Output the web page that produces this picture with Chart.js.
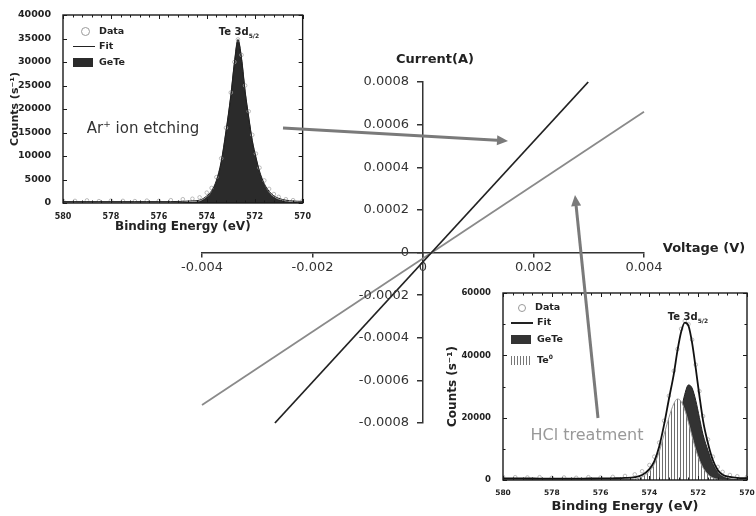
<!DOCTYPE html>
<html>
<head>
<meta charset="utf-8">
<script src="https://cdn.jsdelivr.net/npm/chart.js@4.4.1/dist/chart.umd.min.js"></script>
<style>
  html, body { margin: 0; padding: 0; background: #fff; }
  #wrap { position: relative; width: 756px; height: 516px; overflow: hidden; font-family: 'DejaVu Sans', sans-serif; }
  canvas { position: absolute; }
  .lbl { position: absolute; white-space: nowrap; transform: translate(-50%, -50%); }
  .leg { position: absolute; font-weight: bold; font-size: 9.5px; color: #222; white-space: nowrap; }
  .sym { display: inline-block; vertical-align: middle; margin-right: 4px; }
</style>
</head>
<body>
<div id="wrap">
  <canvas id="main" width="756" height="516" style="left:0;top:0"></canvas>
  <canvas id="ins1" width="312" height="236" style="left:0;top:0"></canvas>
  <canvas id="ins2" width="316" height="236" style="left:440px;top:280px"></canvas>
  <canvas id="arrows" width="756" height="516" style="left:0;top:0"></canvas>

  <div class="lbl" style="left:435px;top:58px;font-weight:bold;font-size:13px;color:#222">Current(A)</div>
  <div class="lbl" style="left:704px;top:247px;font-weight:bold;font-size:13px;color:#222">Voltage (V)</div>
  <div class="lbl" style="left:143px;top:128px;font-size:15px;color:#333">Ar<sup style="font-size:9px">+</sup> ion etching</div>
  <div class="lbl" style="left:587px;top:434px;font-size:16px;color:#999">HCl treatment</div>
  <div class="lbl" style="left:239px;top:32px;font-weight:bold;font-size:10px;color:#222">Te 3d<sub style="font-size:6px">5/2</sub></div>
  <div class="lbl" style="left:688px;top:317px;font-weight:bold;font-size:10px;color:#222">Te 3d<sub style="font-size:6px">5/2</sub></div>

  <!-- legend, inset 1 -->
  <div class="leg" style="left:74px;top:25px"><span class="sym" style="width:7px;height:7px;border:1px solid #999;border-radius:50%;margin:0 9px 0 7px"></span>Data</div>
  <div class="leg" style="left:73px;top:40px"><span class="sym" style="width:22px;height:1.5px;background:#222"></span>Fit</div>
  <div class="leg" style="left:73px;top:56px"><span class="sym" style="width:20px;height:9px;background:#2b2b2b;margin-right:6px"></span>GeTe</div>
  <!-- legend, inset 2 -->
  <div class="leg" style="left:512px;top:301px"><span class="sym" style="width:6px;height:6px;border:1px solid #999;border-radius:50%;margin:0 9px 0 6px"></span>Data</div>
  <div class="leg" style="left:511px;top:316px"><span class="sym" style="width:22px;height:2px;background:#222"></span>Fit</div>
  <div class="leg" style="left:511px;top:333px"><span class="sym" style="width:20px;height:9px;background:#333;margin-right:6px"></span>GeTe</div>
  <div class="leg" style="left:511px;top:353px"><span class="sym" style="width:20px;height:9px;margin-right:6px;background:repeating-linear-gradient(90deg,#777 0 1px,#fff 1px 3px)"></span>Te<sup style="font-size:6px">0</sup></div>
</div>

<script>
// ---- main I-V plot ----
const ivVoltsDark = [-0.00268, 0.00299];
const ivCurrentDark = [-0.0008, 0.0008];
const ivVoltsLight = [-0.004, 0.004];
const ivCurrentLight = [-0.000715, 0.00066];
const xTickValues = [-0.004, -0.002, 0, 0.002, 0.004];
const xTickLabels = ['-0.004', '-0.002', '0', '0.002', '0.004'];
const yTickValues = [-0.0008, -0.0006, -0.0004, -0.0002, 0, 0.0002, 0.0004, 0.0006, 0.0008];
const yTickLabels = ['-0.0008', '-0.0006', '-0.0004', '-0.0002', '0', '0.0002', '0.0004', '0.0006', '0.0008'];

// ---- XPS insets (binding energy, eV) ----
const energy = [580, 579.5, 579, 578.5, 578, 577.5, 577, 576.5, 576, 575.5, 575, 574.6, 574.3, 574.0, 573.8, 573.6, 573.4,
  573.2, 573.0, 572.85, 572.7, 572.55, 572.4, 572.25, 572.1, 571.95, 571.8, 571.6, 571.4, 571.2, 571.0, 570.7, 570.4, 570];
const energyTicks = [580, 578, 576, 574, 572, 570];
const energyTickLabels = ['580', '578', '576', '574', '572', '570'];

// Ar+ ion etching
const arData = [500, 450, 550, 400, 500, 450, 400, 500, 450, 600, 800, 900, 1200, 2200, 3200, 5500, 9500,
  16000, 23500, 30000, 34800, 31500, 25000, 19500, 14500, 10500, 7500, 4800, 3000, 1900, 1300, 800, 600, 500];
const arFit = [300, 300, 300, 300, 300, 300, 300, 300, 300, 300, 350, 450, 600, 1500, 2600, 4800, 8800,
  15300, 22800, 29800, 34800, 30800, 23800, 18300, 13300, 9800, 6800, 4100, 2500, 1500, 1000, 600, 420, 350];
const arGeTe = [0, 0, 0, 0, 0, 0, 0, 0, 0, 0, 50, 150, 300, 1200, 2300, 4500, 8500,
  15000, 22500, 29500, 34500, 30500, 23500, 18000, 13000, 9500, 6500, 3800, 2200, 1200, 700, 300, 120, 50];
const arCountTicks = [0, 5000, 10000, 15000, 20000, 25000, 30000, 35000, 40000];
const arCountLabels = ['0', '5000', '10000', '15000', '20000', '25000', '30000', '35000', '40000'];

// HCl treatment
const hclData = [1000, 900, 800, 900, 700, 800, 700, 900, 800, 1000, 1300, 1800, 2800, 4800, 7500, 12000, 19000,
  27000, 35000, 42000, 48500, 51000, 50000, 45000, 37000, 28500, 20500, 13000, 7500, 4200, 2600, 1600, 1200, 1000];
const hclFit = [500, 500, 480, 470, 450, 450, 450, 480, 500, 550, 650, 900, 1600, 3500, 6000, 10700, 17700,
  26000, 34000, 41500, 47500, 50500, 49500, 44000, 35800, 27000, 19000, 11800, 6400, 3200, 1700, 1000, 700, 600];
const hclGeTe = [0, 0, 0, 0, 0, 0, 0, 0, 0, 0, 0, 0, 50, 200, 500, 1200, 2700,
  5500, 10500, 15500, 22000, 27500, 30500, 29500, 25500, 20000, 14500, 9500, 5200, 2500, 1100, 350, 100, 0];
const hclTe0 = [0, 0, 0, 0, 0, 0, 0, 0, 0, 0, 50, 300, 1000, 2800, 5000, 9000, 14500,
  20000, 24500, 26000, 25200, 22500, 18500, 14000, 9800, 6400, 3900, 1800, 700, 250, 80, 0, 0, 0];
const hclCountTicks = [0, 20000, 40000, 60000];
const hclCountLabels = ['0', '20000', '40000', '60000'];

Chart.defaults.font.family = "'DejaVu Sans', sans-serif";
Chart.defaults.color = '#333';

const pts = (xs, ys) => xs.map((x, i) => ({ x: x, y: ys[i] }));

// y labels for the centred axis, set off to the left of the axis line
const centerYLabels = {
  id: 'centerYLabels',
  afterDraw(chart) {
    const { ctx, scales: { x, y } } = chart;
    const ax = x.getPixelForValue(0);
    ctx.save();
    ctx.font = "13px 'DejaVu Sans', sans-serif";
    ctx.fillStyle = '#333';
    ctx.textAlign = 'right';
    ctx.textBaseline = 'middle';
    yTickValues.forEach((v, i) => ctx.fillText(yTickLabels[i], ax - 14, y.getPixelForValue(v)));
    ctx.restore();
  }
};

new Chart(document.getElementById('main'), {
  type: 'scatter',
  data: {
    datasets: [
      { data: pts(ivVoltsDark, ivCurrentDark), showLine: true, borderColor: '#222', borderWidth: 1.8, pointRadius: 0, clip: false },
      { data: pts(ivVoltsLight, ivCurrentLight), showLine: true, borderColor: '#8a8a8a', borderWidth: 1.8, pointRadius: 0, clip: false }
    ]
  },
  options: {
    responsive: false, animation: false, devicePixelRatio: 1,
    layout: { padding: { left: 202, right: 112, top: 82, bottom: 93 } },
    plugins: { legend: { display: false }, tooltip: { enabled: false } },
    scales: {
      x: {
        type: 'linear', position: { y: 0 }, min: -0.004, max: 0.004,
        afterBuildTicks: s => { s.ticks = xTickValues.map(v => ({ value: v })); },
        ticks: { callback: (v, i) => xTickLabels[i], font: { size: 13 }, color: '#333', padding: 3, maxRotation: 0 },
        grid: { drawOnChartArea: false, tickLength: 4, color: '#333', lineWidth: 1.5 },
        border: { color: '#333', width: 1.5 }
      },
      y: {
        type: 'linear', position: { x: 0 }, min: -0.0008, max: 0.0008,
        afterBuildTicks: s => { s.ticks = yTickValues.map(v => ({ value: v })); },
        ticks: { display: false },
        grid: { drawOnChartArea: false, tickLength: 5, color: '#333', lineWidth: 1.5 },
        border: { color: '#333', width: 1.5 }
      }
    }
  },
  plugins: [centerYLabels]
});

// frame with inward major/minor ticks on all four sides
const boxTicks = {
  id: 'boxTicks',
  afterDraw(chart, args, o) {
    const { ctx, chartArea: a, scales: { x, y } } = chart;
    ctx.save();
    ctx.strokeStyle = '#1a1a1a';
    ctx.lineWidth = 1.4;
    ctx.strokeRect(a.left, a.top, a.right - a.left, a.bottom - a.top);
    ctx.lineWidth = 1;
    ctx.beginPath();
    for (let k = 0; k <= Math.round((x.max - x.min) / o.xMinor); k++) {
      const v = x.min + k * o.xMinor;
      const px = Math.round(x.getPixelForValue(v)) + 0.5;
      const len = (Math.abs(v / o.xMajor - Math.round(v / o.xMajor)) < 1e-6) ? 4 : 2.5;
      ctx.moveTo(px, a.bottom); ctx.lineTo(px, a.bottom - len);
      ctx.moveTo(px, a.top); ctx.lineTo(px, a.top + len);
    }
    for (let k = 0; k <= Math.round((y.max - y.min) / o.yMinor); k++) {
      const v = y.min + k * o.yMinor;
      const py = Math.round(y.getPixelForValue(v)) + 0.5;
      const len = (Math.abs(v / o.yMajor - Math.round(v / o.yMajor)) < 1e-6) ? 4 : 2.5;
      ctx.moveTo(a.left, py); ctx.lineTo(a.left + len, py);
      ctx.moveTo(a.right, py); ctx.lineTo(a.right - len, py);
    }
    ctx.stroke();
    ctx.restore();
  }
};

function hatch() {
  const c = document.createElement('canvas');
  c.width = 3; c.height = 4;
  const g = c.getContext('2d');
  g.fillStyle = '#fff'; g.fillRect(0, 0, 3, 4);
  g.fillStyle = '#6e6e6e'; g.fillRect(0, 0, 1, 4);
  return g.createPattern(c, 'repeat');
}

function insetOptions(cfg) {
  return {
    responsive: false, animation: false, devicePixelRatio: 1,
    layout: { padding: { left: 0, right: cfg.right, top: cfg.top, bottom: 0 } },
    plugins: { legend: { display: false }, tooltip: { enabled: false }, boxTicks: cfg.ticks },
    elements: { line: { cubicInterpolationMode: 'monotone' } },
    scales: {
      x: {
        type: 'linear', reverse: true, min: 570, max: 580,
        afterFit: s => { s.height = cfg.xh; },
        afterBuildTicks: s => { s.ticks = energyTicks.map(v => ({ value: v })); },
        ticks: { callback: (v, i) => energyTickLabels[i], font: { size: cfg.xfont, weight: 'bold' },
          color: '#222', padding: 1, maxRotation: 0 },
        grid: { display: false }, border: { display: false },
        title: { display: true, text: 'Binding Energy (eV)', font: { size: cfg.tfont, weight: 'bold' }, color: '#222', padding: { top: 0, bottom: 2 } }
      },
      y: {
        type: 'linear', min: 0, max: cfg.ymax,
        afterFit: s => { s.width = 63; },
        afterBuildTicks: s => { s.ticks = cfg.yticks.map(v => ({ value: v })); },
        ticks: { callback: (v, i) => cfg.ylabels[i], font: { size: cfg.yfont, weight: 'bold' },
          color: '#222', padding: 4 },
        grid: { display: false }, border: { display: false },
        title: { display: true, text: 'Counts (s\u207B\u00B9)', font: { size: cfg.tfont - 1, weight: 'bold' }, color: '#222', padding: { top: cfg.ytpad, bottom: 0 } }
      }
    }
  };
}

new Chart(document.getElementById('ins1'), {
  type: 'line',
  data: {
    datasets: [
      { data: pts(energy, arFit), order: 0, borderColor: '#222', borderWidth: 1, pointRadius: 0, fill: false },
      { data: pts(energy, arData), order: 1, showLine: false, pointRadius: 1.8, pointBorderWidth: 0.8,
        pointBorderColor: '#aaa', pointBackgroundColor: 'rgba(255,255,255,0)' },
      { data: pts(energy, arGeTe), order: 2, borderColor: '#222', borderWidth: 1, pointRadius: 0,
        fill: 'origin', backgroundColor: '#2b2b2b' }
    ]
  },
  options: insetOptions({ right: 9, top: 15, xh: 33, ymax: 40000, yticks: arCountTicks, ylabels: arCountLabels,
    xfont: 8, yfont: 9.5, tfont: 12, ytpad: 9,
    ticks: { xMinor: 0.4, xMajor: 2, yMinor: 5000, yMajor: 5000 } }),
  plugins: [boxTicks]
});

new Chart(document.getElementById('ins2'), {
  type: 'line',
  data: {
    datasets: [
      { data: pts(energy, hclFit), order: 0, borderColor: '#111', borderWidth: 1.8, pointRadius: 0, fill: false },
      { data: pts(energy, hclData), order: 1, showLine: false, pointRadius: 1.8, pointBorderWidth: 0.8,
        pointBorderColor: '#aaa', pointBackgroundColor: 'rgba(255,255,255,0)' },
      { data: pts(energy, hclTe0), order: 2, borderColor: '#999', borderWidth: 1, pointRadius: 0,
        fill: 'origin', backgroundColor: hatch() },
      { data: pts(energy, hclGeTe), order: 3, borderColor: '#222', borderWidth: 1, pointRadius: 0,
        fill: 'origin', backgroundColor: '#333' }
    ]
  },
  options: insetOptions({ right: 9, top: 13, xh: 36, ymax: 60000, yticks: hclCountTicks, ylabels: hclCountLabels,
    xfont: 7.5, yfont: 8.5, tfont: 13, ytpad: 6,
    ticks: { xMinor: 0.4, xMajor: 2, yMinor: 10000, yMajor: 20000 } }),
  plugins: [boxTicks]
});

// gray arrows linking the spectra to the I-V lines
function arrow(ctx, x1, y1, x2, y2) {
  const ang = Math.atan2(y2 - y1, x2 - x1);
  const hl = 11, hw = 5;
  const bx = x2 - hl * Math.cos(ang), by = y2 - hl * Math.sin(ang);
  ctx.beginPath();
  ctx.moveTo(x1, y1); ctx.lineTo(bx, by);
  ctx.stroke();
  ctx.beginPath();
  ctx.moveTo(x2, y2);
  ctx.lineTo(bx + hw * Math.sin(ang), by - hw * Math.cos(ang));
  ctx.lineTo(bx - hw * Math.sin(ang), by + hw * Math.cos(ang));
  ctx.closePath();
  ctx.fill();
}
const actx = document.getElementById('arrows').getContext('2d');
actx.strokeStyle = '#7a7a7a';
actx.fillStyle = '#7a7a7a';
actx.lineWidth = 3;
arrow(actx, 283, 128, 508, 141);
arrow(actx, 598, 418, 575, 195);
</script>
</body>
</html>
